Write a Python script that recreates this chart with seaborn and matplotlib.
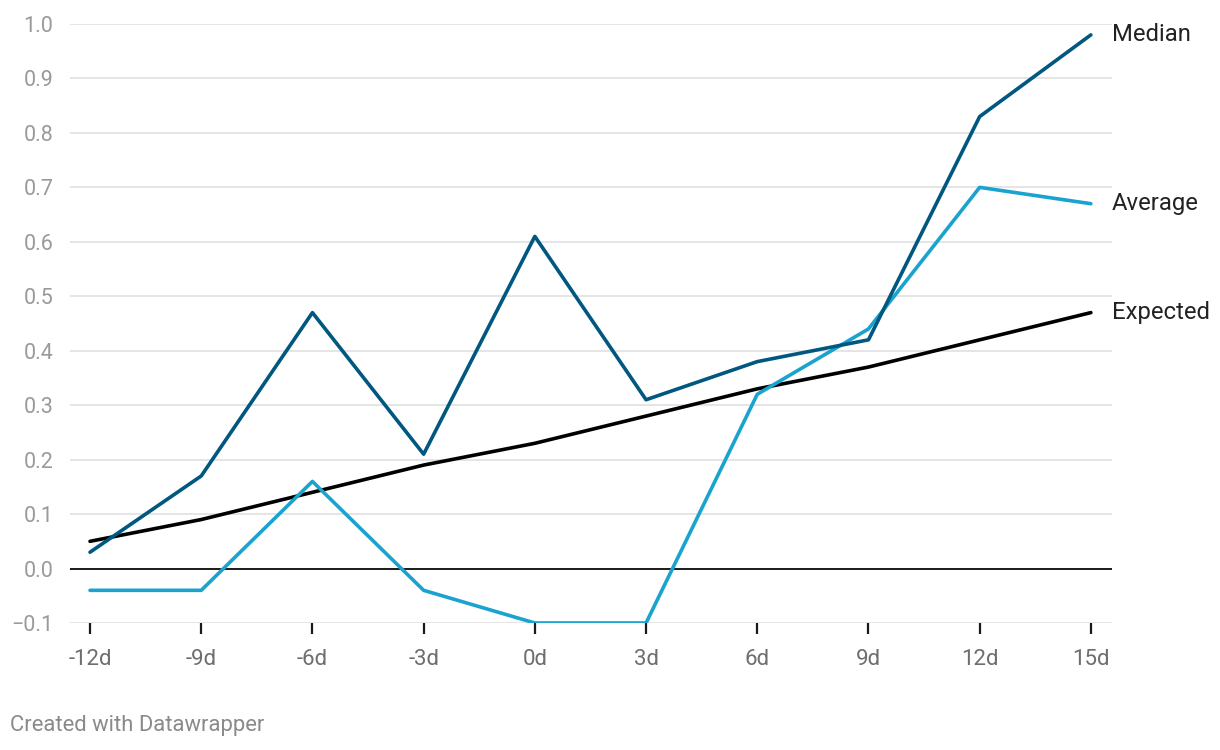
import matplotlib.pyplot as plt
import pandas as pd
import seaborn as sns

# values
days = [-12, -9, -6, -3, 0, 3, 6, 9, 12, 15]
median = [0.03, 0.17, 0.47, 0.21, 0.61, 0.31, 0.38, 0.42, 0.83, 0.98]
average = [-0.04, -0.04, 0.16, -0.04, -0.10, -0.10, 0.32, 0.44, 0.70, 0.67]
expected = [0.05, 0.09, 0.14, 0.19, 0.23, 0.28, 0.33, 0.37, 0.42, 0.47]
tick_labels = [str(d) + "d" for d in days]

series = ["Median", "Average", "Expected"]
colors = {"Median": "#00577f", "Average": "#1ba3cf", "Expected": "#000000"}

df = pd.DataFrame({"day": days, "Median": median, "Average": average, "Expected": expected})
long = df.melt(id_vars="day", var_name="series", value_name="value")

sns.set_theme(style="white")
plt.rcParams["font.family"] = ["Roboto", "DejaVu Sans"]

fig = plt.figure(figsize=(12.2, 7.5), dpi=100)
ax = fig.add_axes([70 / 1220, 127 / 750, 1042 / 1220, 599 / 750])

# grid
for v in [i / 10 for i in range(-1, 11)]:
    if v == 0:
        continue
    ax.axhline(v, color="#e3e3e3", lw=1.3, zorder=0)
ax.axhline(0, color="#1a1a1a", lw=1.4, zorder=1)

sns.lineplot(data=long, x="day", y="value", hue="series", hue_order=series[::-1],
             palette=colors, linewidth=2.6, legend=False, ax=ax, zorder=3)

ax.set_xlim(-12.54, 15.57)
ax.set_ylim(-0.1, 1.0)
ax.set_yticks([i / 10 for i in range(-1, 11)])
ax.set_yticklabels([f"{i / 10:.1f}".replace("-", "\u2212") for i in range(-1, 11)])
ax.set_xticks(days)
ax.set_xticklabels(tick_labels)
ax.set_xlabel("")
ax.set_ylabel("")
for s in ax.spines.values():
    s.set_visible(False)

ax.tick_params(axis="y", left=False, length=0, pad=12, labelsize=15.5, labelcolor="#9a9a9a")
ax.tick_params(axis="x", bottom=True, length=8, width=1.6, color="#1a1a1a", direction="out",
               pad=11, labelsize=16, labelcolor="#6e6e6e")
for lab in ax.get_yticklabels():
    lab.set_horizontalalignment("right")

# direct labels at line ends
for name, vals in [("Median", median), ("Average", average), ("Expected", expected)]:
    ax.annotate(name, xy=(days[-1], vals[-1]), xytext=(15, 0), textcoords="offset points",
                va="center", ha="left", fontsize=17.2, color="#222222", annotation_clip=False)

fig.text(10 / 1220, 1 - 726 / 750, "Created with Datawrapper", fontsize=15.8,
         color="#8a8a8a", va="center", ha="left")

fig.savefig("out.png", dpi=100)
